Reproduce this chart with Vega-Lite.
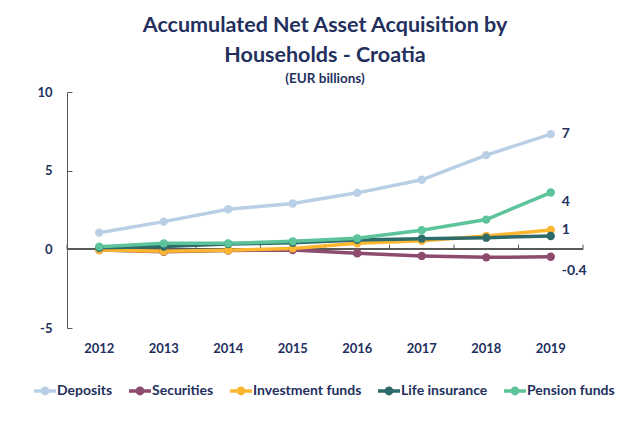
{
  "$schema": "https://vega.github.io/schema/vega-lite/v6.json",
  "width": 516,
  "height": 236,
  "autosize": "none",
  "padding": {"left": 67, "top": 92, "right": 48, "bottom": 93},
  "background": "white",
  "config": {
    "view": {"stroke": null},
    "font": "Lato",
    "axis": {"labelFont": "Lato", "labelFontWeight": "bold", "labelFontSize": 13, "labelColor": "#23305e", "grid": false, "domainColor": "#595959", "tickColor": "#595959", "title": null}
  },
  "title": {
    "text": ["Accumulated Net Asset Acquisition by", "Households - Croatia"],
    "subtitle": "(EUR billions)",
    "font": "Lato", "fontSize": 21.5, "fontWeight": "bold", "color": "#23305e", "lineHeight": 30,
    "subtitleFont": "Lato", "subtitleFontSize": 13.5, "subtitleFontWeight": "bold", "subtitleColor": "#23305e", "subtitlePadding": 5,
    "anchor": "middle", "offset": 1
  },
  "data": {"values": [
    {"year": "2012", "series": "Deposits", "value": 1.06},
    {"year": "2013", "series": "Deposits", "value": 1.76},
    {"year": "2014", "series": "Deposits", "value": 2.55},
    {"year": "2015", "series": "Deposits", "value": 2.91},
    {"year": "2016", "series": "Deposits", "value": 3.59},
    {"year": "2017", "series": "Deposits", "value": 4.42},
    {"year": "2018", "series": "Deposits", "value": 5.99},
    {"year": "2019", "series": "Deposits", "value": 7.32, "label": "7"},
    {"year": "2012", "series": "Securities", "value": -0.04},
    {"year": "2013", "series": "Securities", "value": -0.15},
    {"year": "2014", "series": "Securities", "value": -0.08},
    {"year": "2015", "series": "Securities", "value": -0.04},
    {"year": "2016", "series": "Securities", "value": -0.25},
    {"year": "2017", "series": "Securities", "value": -0.42},
    {"year": "2018", "series": "Securities", "value": -0.51},
    {"year": "2019", "series": "Securities", "value": -0.47, "label": "-0.4"},
    {"year": "2012", "series": "Investment funds", "value": -0.04},
    {"year": "2013", "series": "Investment funds", "value": -0.12},
    {"year": "2014", "series": "Investment funds", "value": -0.06},
    {"year": "2015", "series": "Investment funds", "value": 0.06},
    {"year": "2016", "series": "Investment funds", "value": 0.38},
    {"year": "2017", "series": "Investment funds", "value": 0.55},
    {"year": "2018", "series": "Investment funds", "value": 0.85},
    {"year": "2019", "series": "Investment funds", "value": 1.23, "label": "1"},
    {"year": "2012", "series": "Life insurance", "value": 0.10},
    {"year": "2013", "series": "Life insurance", "value": 0.18},
    {"year": "2014", "series": "Life insurance", "value": 0.34},
    {"year": "2015", "series": "Life insurance", "value": 0.42},
    {"year": "2016", "series": "Life insurance", "value": 0.60},
    {"year": "2017", "series": "Life insurance", "value": 0.68},
    {"year": "2018", "series": "Life insurance", "value": 0.74},
    {"year": "2019", "series": "Life insurance", "value": 0.85},
    {"year": "2012", "series": "Pension funds", "value": 0.17},
    {"year": "2013", "series": "Pension funds", "value": 0.38},
    {"year": "2014", "series": "Pension funds", "value": 0.38},
    {"year": "2015", "series": "Pension funds", "value": 0.51},
    {"year": "2016", "series": "Pension funds", "value": 0.70},
    {"year": "2017", "series": "Pension funds", "value": 1.21},
    {"year": "2018", "series": "Pension funds", "value": 1.89},
    {"year": "2019", "series": "Pension funds", "value": 3.61, "label": "4"}
  ]},
  "encoding": {
    "x": {"field": "year", "type": "ordinal", "scale": {"type": "band", "paddingInner": 0, "paddingOuter": 0},
      "axis": {"domain": false, "ticks": false, "labelAngle": 0, "labelPadding": 14}},
    "y": {"field": "value", "type": "quantitative", "scale": {"domain": [-5, 10]},
      "axis": {"values": [-5, 0, 5, 10], "tickSize": -5, "labelPadding": 20, "labelExpr": "replace(datum.label, '−', '-')"}}
  },
  "layer": [
    {
      "mark": {"type": "rule", "color": "#595959", "strokeWidth": 1},
      "encoding": {"x": null, "y": {"datum": 0, "type": "quantitative"}}
    },
    {
      "transform": [{"filter": "datum.series === 'Deposits'"}],
      "mark": {"type": "rule", "color": "#595959", "strokeWidth": 1},
      "encoding": {
        "x": {"field": "year", "type": "ordinal", "bandPosition": 0},
        "y": {"datum": 0, "type": "quantitative"},
        "y2": {"datum": 0.3}
      }
    },
    {
      "transform": [{"filter": "datum.series === 'Deposits' && datum.year === '2019'"}],
      "mark": {"type": "rule", "color": "#595959", "strokeWidth": 1},
      "encoding": {
        "x": {"field": "year", "type": "ordinal", "bandPosition": 1},
        "y": {"datum": 0, "type": "quantitative"},
        "y2": {"datum": 0.3}
      }
    },
    {
      "mark": {"type": "line", "strokeWidth": 3.5},
      "encoding": {
        "color": {"field": "series", "type": "nominal",
          "scale": {"domain": ["Deposits", "Securities", "Investment funds", "Life insurance", "Pension funds"], "range": ["#b9cfe5", "#8e4b70", "#fdb62f", "#2d6a6a", "#5dc39b"]},
          "legend": {"orient": "none", "legendX": -33, "legendY": 288, "direction": "horizontal", "title": null,
            "symbolType": "M-1,-0.16H-0.36V0.16H-1Z M0.36,-0.16H1V0.16H0.36Z M-0.4,0A0.4,0.4 0 1,1 0.4,0A0.4,0.4 0 1,1 -0.4,0Z",
            "symbolSize": 484, "symbolStrokeWidth": 0, "symbolOpacity": 1, "labelFont": "Lato", "labelFontWeight": "bold", "labelFontSize": 14, "labelColor": "#23305e", "labelOffset": 1, "columnPadding": 16}}
      }
    },
    {
      "mark": {"type": "point", "filled": true, "size": 70, "opacity": 1},
      "encoding": {
        "color": {"field": "series", "type": "nominal"}
      }
    },
    {
      "transform": [{"filter": "(datum.series === 'Deposits' || datum.series === 'Investment funds') && datum.label != null"}],
      "mark": {"type": "text", "align": "left", "baseline": "middle", "dx": 11, "font": "Lato", "fontWeight": "bold", "fontSize": 14, "color": "#23305e"},
      "encoding": {"text": {"field": "label"}}
    },
    {
      "transform": [{"filter": "datum.series === 'Pension funds' && datum.label != null"}],
      "mark": {"type": "text", "align": "left", "baseline": "middle", "dx": 11, "dy": 9, "font": "Lato", "fontWeight": "bold", "fontSize": 14, "color": "#23305e"},
      "encoding": {"text": {"field": "label"}}
    },
    {
      "transform": [{"filter": "datum.series === 'Securities' && datum.label != null"}],
      "mark": {"type": "text", "align": "left", "baseline": "middle", "dx": 11, "dy": 14, "font": "Lato", "fontWeight": "bold", "fontSize": 14, "color": "#23305e"},
      "encoding": {"text": {"field": "label"}}
    }
  ]
}
